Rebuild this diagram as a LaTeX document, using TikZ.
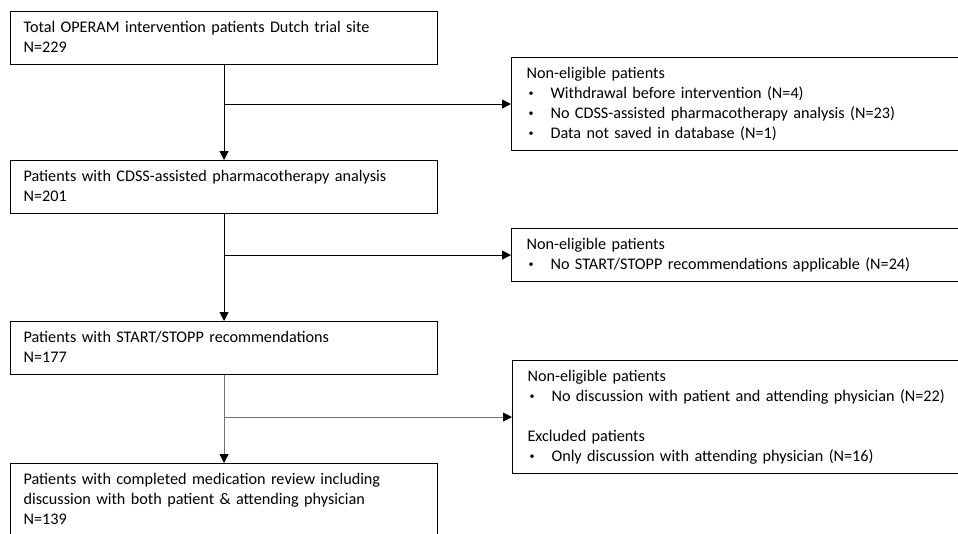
\documentclass[tikz,border=0pt]{standalone}
\usepackage{fontspec}
\setmainfont{Carlito}
\usepackage{tikz}
\definecolor{paleline}{RGB}{115,115,115}
\usetikzlibrary{arrows.meta}
\newcommand{\bul}[1]{\hspace*{2pt}\makebox[22pt][l]{\raisebox{1.5pt}{\fontsize{10}{10}\selectfont\textbullet}}#1}

\begin{document}
\begin{tikzpicture}[x=1pt,y=-1pt,
        flowbox/.style={draw,line width=1.1pt,anchor=north west,align=left,
            inner xsep=13pt,inner ysep=6.5pt,text width=401pt,
            font=\fontsize{16.2}{20}\selectfont},
        sidebox/.style={flowbox,inner xsep=15pt,text width=434pt},
        conn/.style={line width=1pt,-{Triangle[length=9pt,width=9pt]}},
        paleconn/.style={conn,draw=paleline,-{Triangle[length=9pt,width=9pt,color=black]}}]
        \useasboundingbox (0,0) rectangle (958,533);
        \fill[white] (0,0) rectangle (958,533);
        \clip (0,0) rectangle (958,533);

        \node[flowbox] (total) at (10,11)
            {\strut Total OPERAM intervention patients Dutch trial site\\N=229\strut};
        \node[flowbox] (cdss) at (10,160)
            {\strut Patients with CDSS-assisted pharmacotherapy analysis\\N=201\strut};
        \node[flowbox] (stopp) at (10,321)
            {\strut Patients with START/STOPP recommendations\\N=177\strut};
        \node[flowbox] (review) at (10,463)
            {\strut Patients with completed medication review including\\
             discussion with both patient \& attending physician\\N=139\strut};

        \node[sidebox] (excl1) at (511,57)
            {\strut Non-eligible patients\\
             \bul{Withdrawal before intervention (N=4)}\\
             \bul{No CDSS-assisted pharmacotherapy analysis (N=23)}\\
             \bul{Data not saved in database (N=1)}\strut};
        \node[sidebox] (excl2) at (511,228)
            {\strut Non-eligible patients\\
             \bul{No START/STOPP recommendations applicable (N=24)}\strut};
        \node[sidebox] (excl3) at (512,360)
            {\strut Non-eligible patients\\
             \bul{No discussion with patient and attending physician (N=22)}\\[\baselineskip]
             Excluded patients\\
             \bul{Only discussion with attending physician (N=16)}\strut};

        \draw[conn] (total.south) -- (cdss.north);
        \draw[conn] (total.south |- excl1.west) -- (excl1.west);
        \draw[conn] (cdss.south) -- (stopp.north);
        \draw[conn] (cdss.south |- excl2.west) -- (excl2.west);
        \draw[paleconn] (stopp.south) -- (review.north);
        \draw[paleconn] (stopp.south |- excl3.west) -- (excl3.west);
    \end{tikzpicture}
\end{document}
